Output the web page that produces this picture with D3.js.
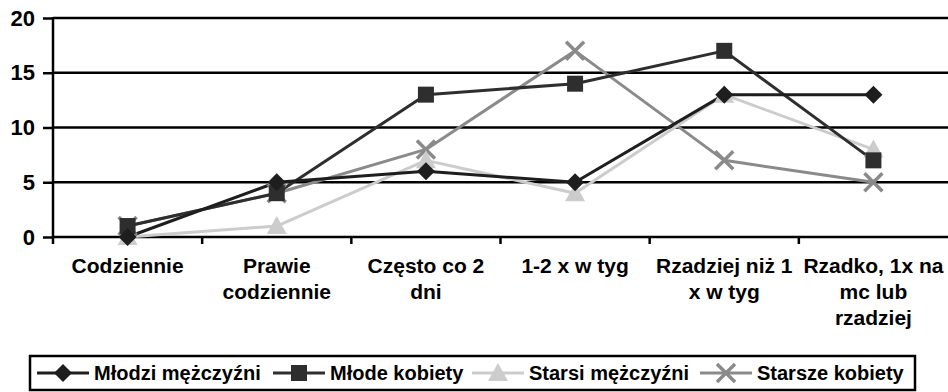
<!DOCTYPE html>
<html><head><meta charset="utf-8">
<script src="https://cdn.jsdelivr.net/npm/d3@7"></script>
<style>body{margin:0;background:#fff}svg{display:block}text{font-family:"Liberation Sans",Arial,sans-serif;font-weight:bold}</style>
</head><body>
<svg id="c" width="948" height="392"></svg>
<script>
const categories = [["Codziennie"],["Prawie","codziennie"],["Często co 2","dni"],["1-2 x w tyg"],["Rzadziej niż 1","x w tyg"],["Rzadko, 1x na","mc lub","rzadziej"]];
const seriesNames = ["Młodzi mężczyźni","Młode kobiety","Starsi mężczyźni","Starsze kobiety"];
const mlodziM = [0,5,6,5,13,13];
const mlodeK  = [1,4,13,14,17,7];
const starsiM = [0,1,7,4,13,8];
const starszeK= [1,4,8,17,7,5];
const yTicks = [0,5,10,15,20];

const series = [
  {name:seriesNames[0], values:mlodziM, color:"#1e1e1e", marker:"diamond"},
  {name:seriesNames[1], values:mlodeK, color:"#2e2e2e", marker:"square"},
  {name:seriesNames[2], values:starsiM, color:"#cccccc", marker:"triangle"},
  {name:seriesNames[3], values:starszeK, color:"#8a8a8a", marker:"x"}
];

const svg = d3.select("#c");
const L=53, R=948, T=18, B=237;
const x = d3.scaleBand().domain(d3.range(categories.length)).range([L,R]);
const y = d3.scaleLinear().domain([0,20]).range([B,T]);

// grid
svg.append("g").selectAll("line").data(yTicks).join("line")
  .attr("x1",L).attr("x2",R).attr("y1",d=>y(d)).attr("y2",d=>y(d))
  .attr("stroke","#000").attr("stroke-width",2.5);

// y axis
const ya = svg.append("g").attr("transform",`translate(${L},0)`)
  .call(d3.axisLeft(y).tickValues(yTicks).tickSize(10).tickPadding(8));
ya.select(".domain").attr("stroke","#000").attr("stroke-width",2.5).attr("d",`M0,${y(0)+1}V${y(20)-1}`);
ya.selectAll(".tick line").attr("stroke","#000").attr("stroke-width",2.5);
ya.selectAll(".tick text").attr("font-size",22).attr("fill","#000")
  .attr("font-family","Liberation Sans, Arial").attr("font-weight","bold");

// x axis ticks at category boundaries
const xa = svg.append("g").attr("transform",`translate(0,${B})`)
  .call(d3.axisBottom(x).tickSize(0).tickFormat(""));
xa.select(".domain").remove();
svg.append("g").selectAll("line").data(d3.range(categories.length)).join("line")
  .attr("x1",d=>x(d)).attr("x2",d=>x(d)).attr("y1",B).attr("y2",B+7)
  .attr("stroke","#000").attr("stroke-width",2.5);
const lab = svg.append("g").selectAll("text").data(categories).join("text")
  .attr("text-anchor","middle").attr("font-size",21).attr("fill","#000")
  .attr("transform",(d,i)=>`translate(${x(i)+x.bandwidth()/2},${B+36})`);
lab.selectAll("tspan").data(d=>d).join("tspan")
  .attr("x",0).attr("dy",(d,i)=>i===0?0:26).text(d=>d);

// lines
const line = d3.line().x((d,i)=>x(i)+x.bandwidth()/2).y(d=>y(d));
function drawMarker(g, type, color){
  if(type==="diamond") g.append("path").attr("d","M0,-9L9,0L0,9L-9,0Z").attr("fill",color);
  else if(type==="square") g.append("rect").attr("x",-8).attr("y",-8).attr("width",16).attr("height",16).attr("fill",color);
  else if(type==="triangle") g.append("path").attr("d","M0,-10L10,8L-10,8Z").attr("fill",color);
  else if(type==="x") g.append("path").attr("d","M-9,-9L9,9M-9,9L9,-9").attr("stroke",color).attr("stroke-width",3.5).attr("fill","none");
}
const order=[3,2,1,0];
order.forEach(si=>{
  const s=series[si];
  svg.append("path").datum(s.values).attr("d",line).attr("fill","none")
    .attr("stroke",s.color).attr("stroke-width",3).attr("stroke-linejoin","round");
});
order.forEach(si=>{
  const s=series[si];
  s.values.forEach((v,i)=>{
    const g=svg.append("g").attr("transform",`translate(${x(i)+x.bandwidth()/2},${y(v)})`);
    drawMarker(g,s.marker,s.color);
  });
});

// legend
const lg = svg.append("g");
lg.append("rect").attr("x",30).attr("y",356).attr("width",885).attr("height",34)
  .attr("fill","#fff").attr("stroke","#000").attr("stroke-width",2.5);
const legX=[37,273,472,700];
series.forEach((s,i)=>{
  const g=lg.append("g").attr("transform",`translate(${legX[i]},373)`);
  g.append("line").attr("x1",0).attr("x2",52).attr("stroke",s.color).attr("stroke-width",3);
  const m=g.append("g").attr("transform","translate(26,0)");
  drawMarker(m,s.marker,s.color);
  g.append("text").attr("x",57).attr("y",7).attr("font-size",20).attr("fill","#000").text(s.name);
});
</script>
</body></html>
